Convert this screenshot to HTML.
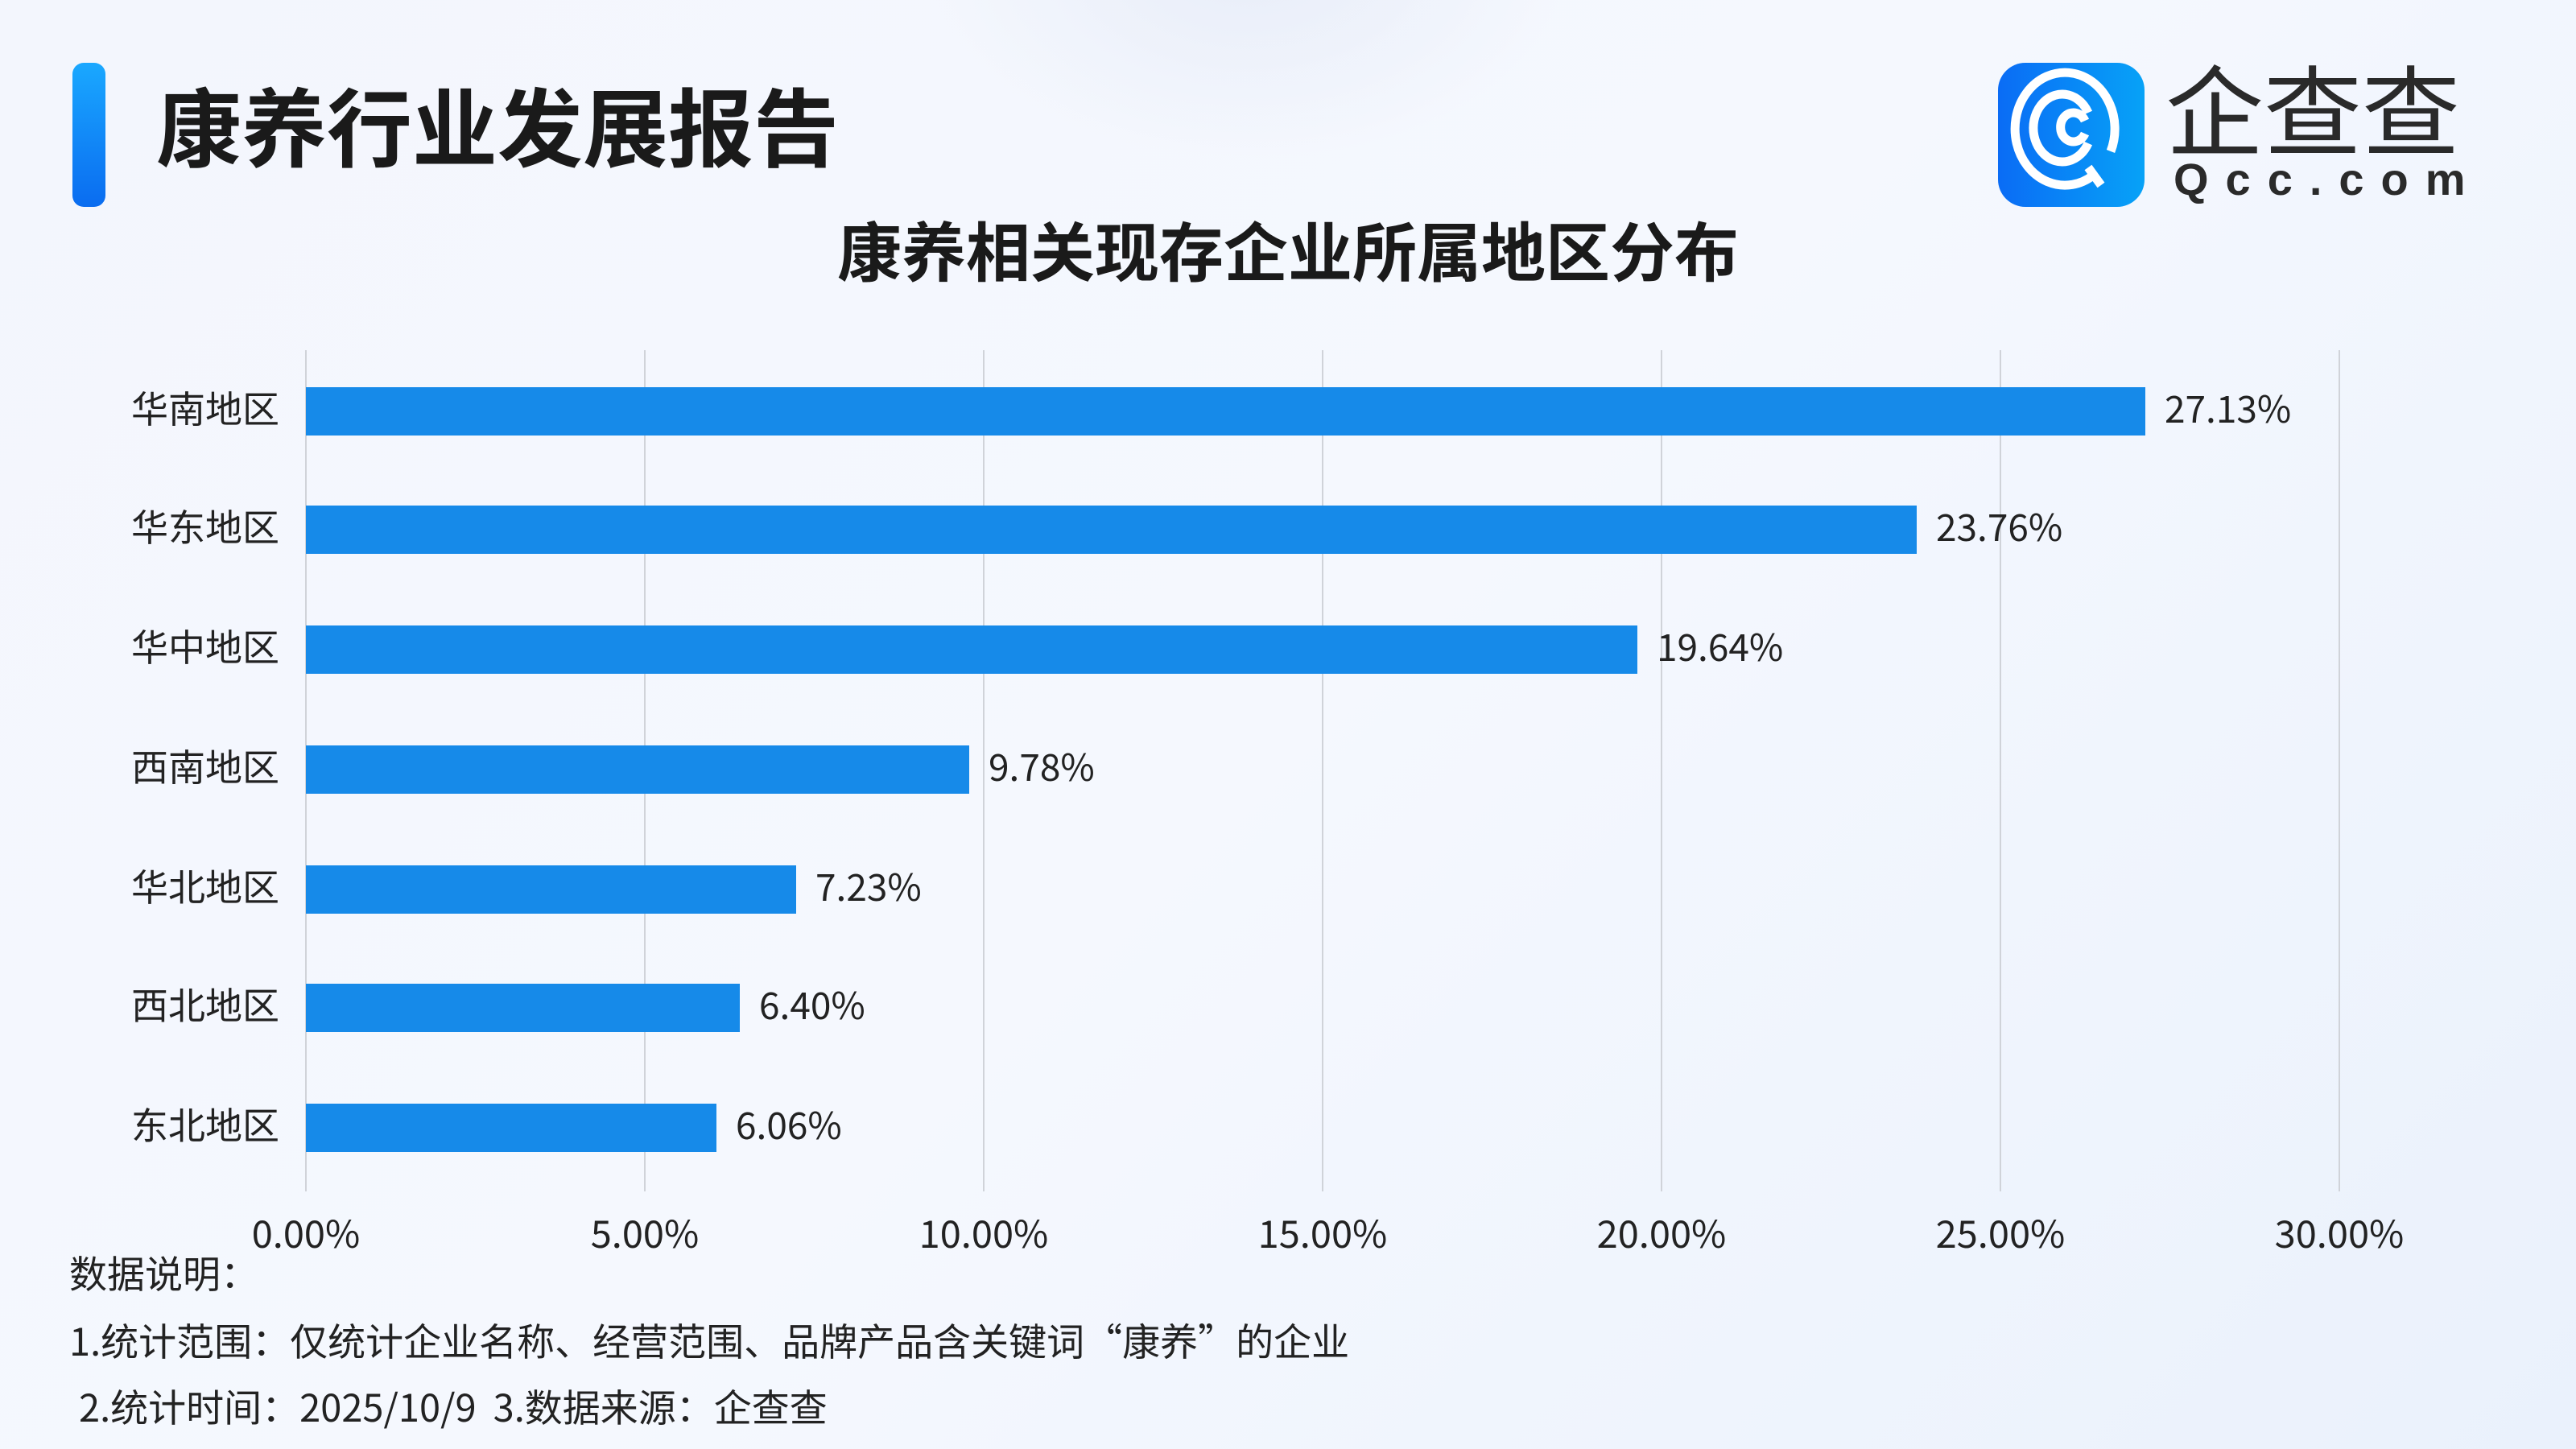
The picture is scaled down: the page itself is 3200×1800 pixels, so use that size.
<!DOCTYPE html>
<html><head><meta charset="utf-8"><style>
body{margin:0}
#c{position:relative;width:3200px;height:1800px;overflow:hidden;background:linear-gradient(135deg,#f3f6fd 0%,#f5f8fe 50%,#eaf1fc 100%);font-family:"Noto Sans CJK SC","Liberation Sans",sans-serif;color:#222}
.t{position:absolute;white-space:nowrap}
</style></head><body><div id="c">
<div style="position:absolute;left:1150px;top:-300px;width:800px;height:500px;border-radius:50%;background:radial-gradient(#e8edf8,rgba(240,244,252,0) 70%)"></div>
<div style="position:absolute;left:90px;top:78px;width:41px;height:179px;border-radius:14px;background:linear-gradient(#1aa8ff,#0a6cf0)"></div>
<div class="t" style="left:194px;top:88px;font-size:106px;font-weight:bold;line-height:130px;color:#1a1a1a">康养行业发展报告</div>
<div style="position:absolute;left:2482px;top:78px;width:182px;height:179px;border-radius:34px;background:linear-gradient(90deg,#0a6cf5,#07a2f7)"></div>
<svg style="position:absolute;left:2482px;top:78px" width="182" height="179" viewBox="0 0 182 179"><g fill="none" stroke="#fff" stroke-width="11" stroke-linecap="butt"><path d="M118 140 A62 70 0 1 1 140 110"/><path d="M112 100 A36 42 0 1 1 112 62"/><path d="M108 88 A16 18 0 1 1 108 72"/><path d="M112 130 L128 152"/></g></svg>
<div class="t" style="left:2690px;top:62px;font-size:122px;line-height:140px;color:#2a2a2a">企查查</div>
<div class="t" style="left:2700px;top:190px;font-family:'Liberation Sans',sans-serif;font-size:56px;line-height:66px;letter-spacing:21px;color:#2a2a2a;font-weight:bold">Qcc.com</div>
<div class="t" style="left:0;width:3200px;text-align:center;top:254px;font-size:80px;font-weight:bold;line-height:110px;color:#1a1a1a">康养相关现存企业所属地区分布</div>
<svg style="position:absolute;left:0;top:0" width="3200" height="1800">
<g stroke="#d0d3d9" stroke-width="2">
<line x1="380" y1="435" x2="380" y2="1480"/><line x1="801" y1="435" x2="801" y2="1480"/><line x1="1222" y1="435" x2="1222" y2="1480"/><line x1="1643" y1="435" x2="1643" y2="1480"/><line x1="2064" y1="435" x2="2064" y2="1480"/><line x1="2485" y1="435" x2="2485" y2="1480"/><line x1="2906" y1="435" x2="2906" y2="1480"/></g>
<g fill="#168ae9">
<rect x="380" y="481" width="2285" height="60"/>
<rect x="380" y="628" width="2001" height="60"/>
<rect x="380" y="777" width="1654" height="60"/>
<rect x="380" y="926" width="824" height="60"/>
<rect x="380" y="1075" width="609" height="60"/>
<rect x="380" y="1222" width="539" height="60"/>
<rect x="380" y="1371" width="510" height="60"/></g>
<g font-family="Noto Sans CJK SC,Liberation Sans,sans-serif" font-size="46" fill="#222">
<g text-anchor="end"><text x="347" y="525">华南地区</text><text x="347" y="672">华东地区</text><text x="347" y="821">华中地区</text><text x="347" y="970">西南地区</text><text x="347" y="1119">华北地区</text><text x="347" y="1266">西北地区</text><text x="347" y="1415">东北地区</text></g>
<text x="2689" y="525">27.13%</text><text x="2405" y="672">23.76%</text><text x="2058" y="821">19.64%</text><text x="1228" y="970">9.78%</text><text x="1013" y="1119">7.23%</text><text x="943" y="1266">6.40%</text><text x="914" y="1415">6.06%</text>
<g text-anchor="middle" font-size="47"><text x="380" y="1550">0.00%</text><text x="801" y="1550">5.00%</text><text x="1222" y="1550">10.00%</text><text x="1643" y="1550">15.00%</text><text x="2064" y="1550">20.00%</text><text x="2485" y="1550">25.00%</text><text x="2906" y="1550">30.00%</text></g>
<g font-size="47">
<text x="86" y="1600">数据说明：</text>
<text x="86" y="1684">1.统计范围：仅统计企业名称、经营范围、品牌产品含关键词“康养”的企业</text>
<text x="98" y="1766" xml:space="preserve">2.统计时间：2025/10/9  3.数据来源：企查查</text>
</g></g></svg>
</div></body></html>
